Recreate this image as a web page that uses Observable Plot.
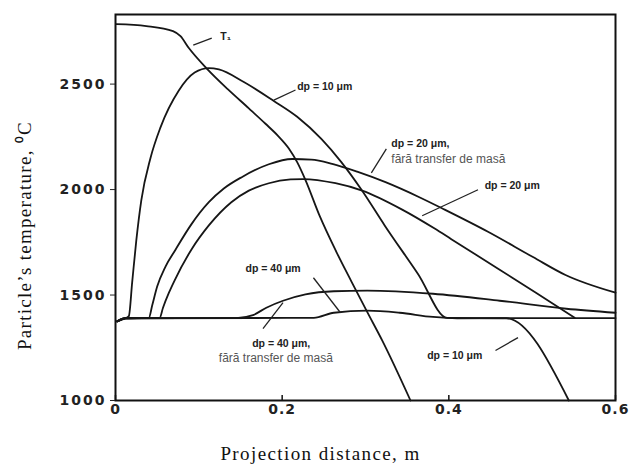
<!DOCTYPE html>
<html><head><meta charset="utf-8">
<script src="https://cdn.jsdelivr.net/npm/d3@7"></script>
<script src="https://cdn.jsdelivr.net/npm/@observablehq/plot@0.6"></script>
<style>
html,body{margin:0;padding:0;background:#fff;}
#chart svg{display:block;}
g[aria-label="y-axis tick label"] text {letter-spacing:2px;}
g[aria-label="x-axis tick label"] text {letter-spacing:1px;}
</style></head><body><div id="chart"></div>
<script>
// Gas temperature T₁
const gasX = [0.001,0.037,0.069,0.078,0.088,0.109,0.135,0.160,0.180,0.195,0.208,0.218,0.228,0.245,0.265,0.283,0.302,0.320,0.354];
const gasY = [2784,2775,2751,2727,2671,2576,2475,2385,2312,2255,2195,2130,2045,1875,1705,1565,1420,1285,1000];
// dp = 10 µm
const dp10X = [0.002,0.012,0.016,0.020,0.025,0.031,0.042,0.054,0.076,0.095,0.112,0.124,0.154,0.190,0.218,0.247,0.271,0.295,0.323,0.363,0.398,0.469,0.544];
const dp10Y = [1375,1390,1400,1560,1760,1950,2150,2295,2470,2555,2576,2570,2510,2420,2345,2240,2130,2000,1830,1600,1392,1390,1000];
// dp = 20 µm, without mass transfer
const dp20nX = [0.002,0.012,0.040,0.044,0.050,0.060,0.072,0.091,0.112,0.130,0.152,0.184,0.212,0.235,0.260,0.290,0.324,0.364,0.395,0.447,0.501,0.540,0.600];
const dp20nY = [1375,1390,1392,1450,1540,1635,1715,1835,1940,2005,2060,2120,2145,2142,2122,2085,2035,1965,1905,1800,1680,1595,1511];
// dp = 20 µm
const dp20X = [0.002,0.012,0.053,0.057,0.064,0.071,0.091,0.112,0.139,0.160,0.184,0.210,0.225,0.264,0.296,0.344,0.383,0.403,0.461,0.505,0.551];
const dp20Y = [1375,1390,1392,1440,1510,1570,1715,1830,1940,1995,2030,2048,2050,2030,1995,1905,1815,1765,1620,1510,1392];
// dp = 40 µm
const dp40X = [0.002,0.012,0.145,0.165,0.181,0.201,0.228,0.262,0.302,0.381,0.461,0.541,0.600];
const dp40Y = [1375,1390,1391,1405,1440,1473,1503,1518,1521,1506,1473,1435,1416];
// dp = 40 µm, without mass transfer
const dp40nX = [0.002,0.012,0.238,0.262,0.302,0.341,0.381,0.410,0.600];
const dp40nY = [1375,1390,1392,1416,1426,1416,1396,1390,1391];

const xTicks = [0, 0.2, 0.4, 0.6];
const yTicks = [1000, 1500, 2000, 2500];
const xLabel = "Projection distance, m";
const yLabel = "Particle\u2019s temperature, \u2070C";

// annotation texts (data-unit anchors)
const annText = ["T\u2081","dp = 10 \u03bcm","dp = 20 \u03bcm,","dp = 20 \u03bcm","dp = 40 \u03bcm","dp = 40 \u03bcm,","dp = 10 \u03bcm"];
const annX = [0.1257,0.218,0.331,0.443,0.156,0.164,0.374];
const annY = [2727,2486,2216,2017,1625,1270,1213];
const subText = ["f\u0103r\u0103 transfer de mas\u0103","f\u0103r\u0103 transfer de mas\u0103"];
const subX = [0.331,0.124];
const subY = [2145,1203];
// leader lines
const leadX1 = [0.0933,0.190,0.307,0.368,0.2375,0.177,0.456];
const leadY1 = [2685,2424,2079,1876,1582,1341,1237];
const leadX2 = [0.1155,0.216,0.325,0.435,0.270,0.201,0.483];
const leadY2 = [2718,2472,2193,1999,1416,1464,1298];

const seriesList = [
  ["gas", gasX, gasY], ["dp10", dp10X, dp10Y], ["dp20n", dp20nX, dp20nY],
  ["dp20", dp20X, dp20Y], ["dp40", dp40X, dp40Y], ["dp40n", dp40nX, dp40nY]
];
const rows = seriesList.flatMap(([s, xs, ys]) => xs.map((x, i) => ({s, x, y: ys[i]})));
const anns = annText.map((t, i) => ({t, x: annX[i], y: annY[i]}));
const subs = subText.map((t, i) => ({t, x: subX[i], y: subY[i]}));
const leads = leadX1.map((x1, i) => ({x1, y1: leadY1[i], x2: leadX2[i], y2: leadY2[i]}));

const chart = Plot.plot({
  width: 629, height: 466,
  marginLeft: 115, marginRight: 14, marginTop: 14, marginBottom: 66,
  style: {fontFamily: "DejaVu Sans", fontSize: "14px", background: "#fff", color: "#222"},
  x: {domain: [0, 0.6]},
  y: {domain: [1000, 2830]},
  marks: [
    Plot.frame({stroke: "#111", strokeWidth: 2}),
    Plot.axisY({ticks: yTicks, tickSize: 5, tickPadding: 4, label: null, fontWeight: "bold", tickFormat: d3.format("d")}),
    Plot.axisX({ticks: xTicks, tickSize: 0, tickPadding: 4, label: null, fontWeight: "bold", tickFormat: d => d === 0 ? "0" : d3.format(".1f")(d)}),
    Plot.ruleX(xTicks, {x: d => d, insetTop: 381, stroke: "#111", strokeWidth: 1.5}),
    Plot.line(rows, {x: "x", y: "y", z: "s", stroke: "#161616", strokeWidth: 1.8, curve: "monotone-x"}),
    Plot.link(leads, {x1: "x1", y1: "y1", x2: "x2", y2: "y2", stroke: "#222", strokeWidth: 1.3}),
    Plot.text(anns, {x: "x", y: "y", text: "t", textAnchor: "start", fontFamily: "Liberation Sans", fontSize: 10.5, fontWeight: "bold", fill: "#222"}),
    Plot.text(subs, {x: "x", y: "y", text: "t", textAnchor: "start", fontFamily: "Liberation Sans", fontSize: 12, fill: "#555"}),
    Plot.text([yLabel], {frameAnchor: "left", textAnchor: "middle", lineAnchor: "middle", rotate: -90, dx: -91, dy: 28, fontFamily: "Liberation Serif", fontSize: 19, fill: "#111"}),
    Plot.text([xLabel], {frameAnchor: "bottom", textAnchor: "middle", lineAnchor: "middle", dx: -45, dy: 53, fontFamily: "Liberation Serif", fontSize: 19, fill: "#111"})
  ]
});
document.getElementById("chart").appendChild(chart);
// widen serif axis titles slightly, as in the scanned figure
chart.querySelectorAll('g[aria-label="text"] text').forEach(t => {
  if (t.textContent === yLabel) t.style.letterSpacing = "1.3px";
  if (t.textContent === xLabel) t.style.letterSpacing = "1.4px";
});
</script></body></html>
